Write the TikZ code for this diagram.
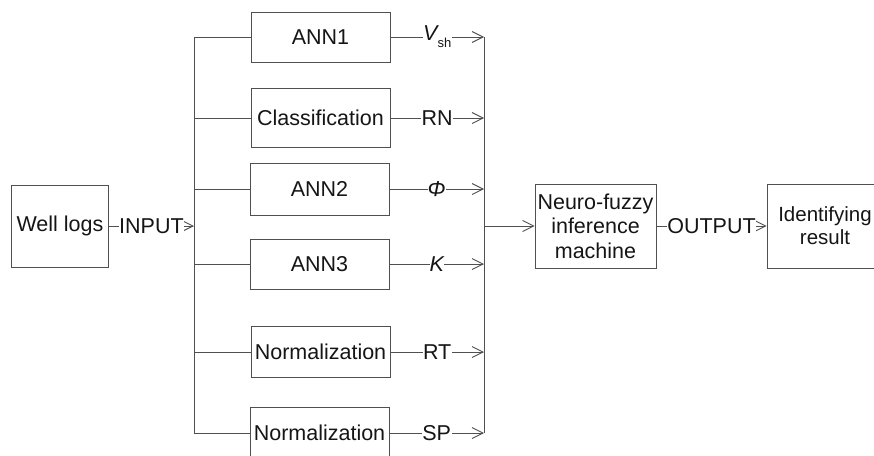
\documentclass[tikz,border=0pt]{standalone}
\usepackage{fontspec}
\setmainfont{Liberation Sans}
\usetikzlibrary{arrows.meta}
\definecolor{ln}{HTML}{505050}
\definecolor{tx}{HTML}{151515}
\tikzset{
  box/.style={draw=ln, line width=0.9pt, minimum width=139pt, minimum height=50pt, inner sep=0pt, font=\fontsize{21.5}{25}\selectfont, text=tx, align=center},
  bigbox/.style={draw=ln, line width=0.9pt, minimum width=121pt, minimum height=84pt, inner sep=0pt, font=\fontsize{21.5}{24.5}\selectfont, text=tx, align=center},
  conn/.style={draw=ln, line width=0.9pt},
  arr/.style={conn, -{Straight Barb[length=11pt,width=11pt,line width=0.9pt]}},
  lbl/.style={fill=white, inner sep=0.5pt, font=\fontsize{21.5}{25}\selectfont, text=tx},
}
\begin{document}
\begin{tikzpicture}[x=1pt,y=-1pt]
\useasboundingbox (0,0) rectangle (874,455);
% nodes
\node[box, minimum width=97pt, minimum height=82pt] (wl) at (60,226) {Well logs};
\node[box] (ann1) at (320.5,37) {ANN1};
\node[box, minimum height=59pt] (cls) at (320.5,118) {Classification};
\node[box, minimum height=52pt] (ann2) at (319.5,189) {ANN2};
\node[box] (ann3) at (319.5,264) {ANN3};
\node[box, minimum height=51pt] (nrm1) at (320.5,352) {Normalization};
\node[box, minimum height=51pt] (nrm2) at (319.5,433) {Normalization};
\node[bigbox] (nf) at (595.5,226) {Neuro-fuzzy\\inference\\machine};
\node[bigbox, minimum width=116pt, font=\fontsize{20.5}{23}\selectfont] (ir) at (825,226) {Identifying\\result};
% bus coordinates
\coordinate (inL) at (194,226);
\coordinate (lt) at (194,37);
\coordinate (l2) at (194,118);
\coordinate (l3) at (194,189);
\coordinate (l4) at (194,264);
\coordinate (l5) at (194,352);
\coordinate (lb) at (194,433);
\coordinate (rt) at (484,37);
\coordinate (r2) at (484,118);
\coordinate (r3) at (484,189);
\coordinate (r4) at (484,264);
\coordinate (r5) at (484,352);
\coordinate (rb) at (484,433);
\coordinate (rm) at (484,226);
% buses
\draw[conn] (lt) -- (lb);
\draw[conn] (rt) -- (rb);
% input
\draw[arr] (wl.east) -- node[lbl]{INPUT} (inL);
% branches
\draw[conn] (lt) -- (ann1.west);
\draw[conn] (l2) -- (cls.west);
\draw[conn] (l3) -- (ann2.west);
\draw[conn] (l4) -- (ann3.west);
\draw[conn] (l5) -- (nrm1.west);
\draw[conn] (lb) -- (nrm2.west);
% outputs
\draw[arr] (ann1.east) -- node[lbl]{\itshape V\raisebox{-7pt}{\upshape\fontsize{13}{13}\selectfont sh}} (rt);
\draw[arr] (cls.east) -- node[lbl]{RN} (r2);
\draw[arr] (ann2.east) -- node[lbl, inner sep=0pt]{\itshape Φ} (r3);
\draw[arr] (ann3.east) -- node[lbl, inner sep=0pt]{\itshape K} (r4);
\draw[arr] (nrm1.east) -- node[lbl]{RT} (r5);
\draw[arr] (nrm2.east) -- node[lbl]{SP} (rb);
% to neuro-fuzzy
\draw[arr] (rm) -- (nf.west);
\draw[arr] (nf.east) -- node[lbl, inner sep=0pt]{OUTPUT} (ir.west);
\end{tikzpicture}
\end{document}
